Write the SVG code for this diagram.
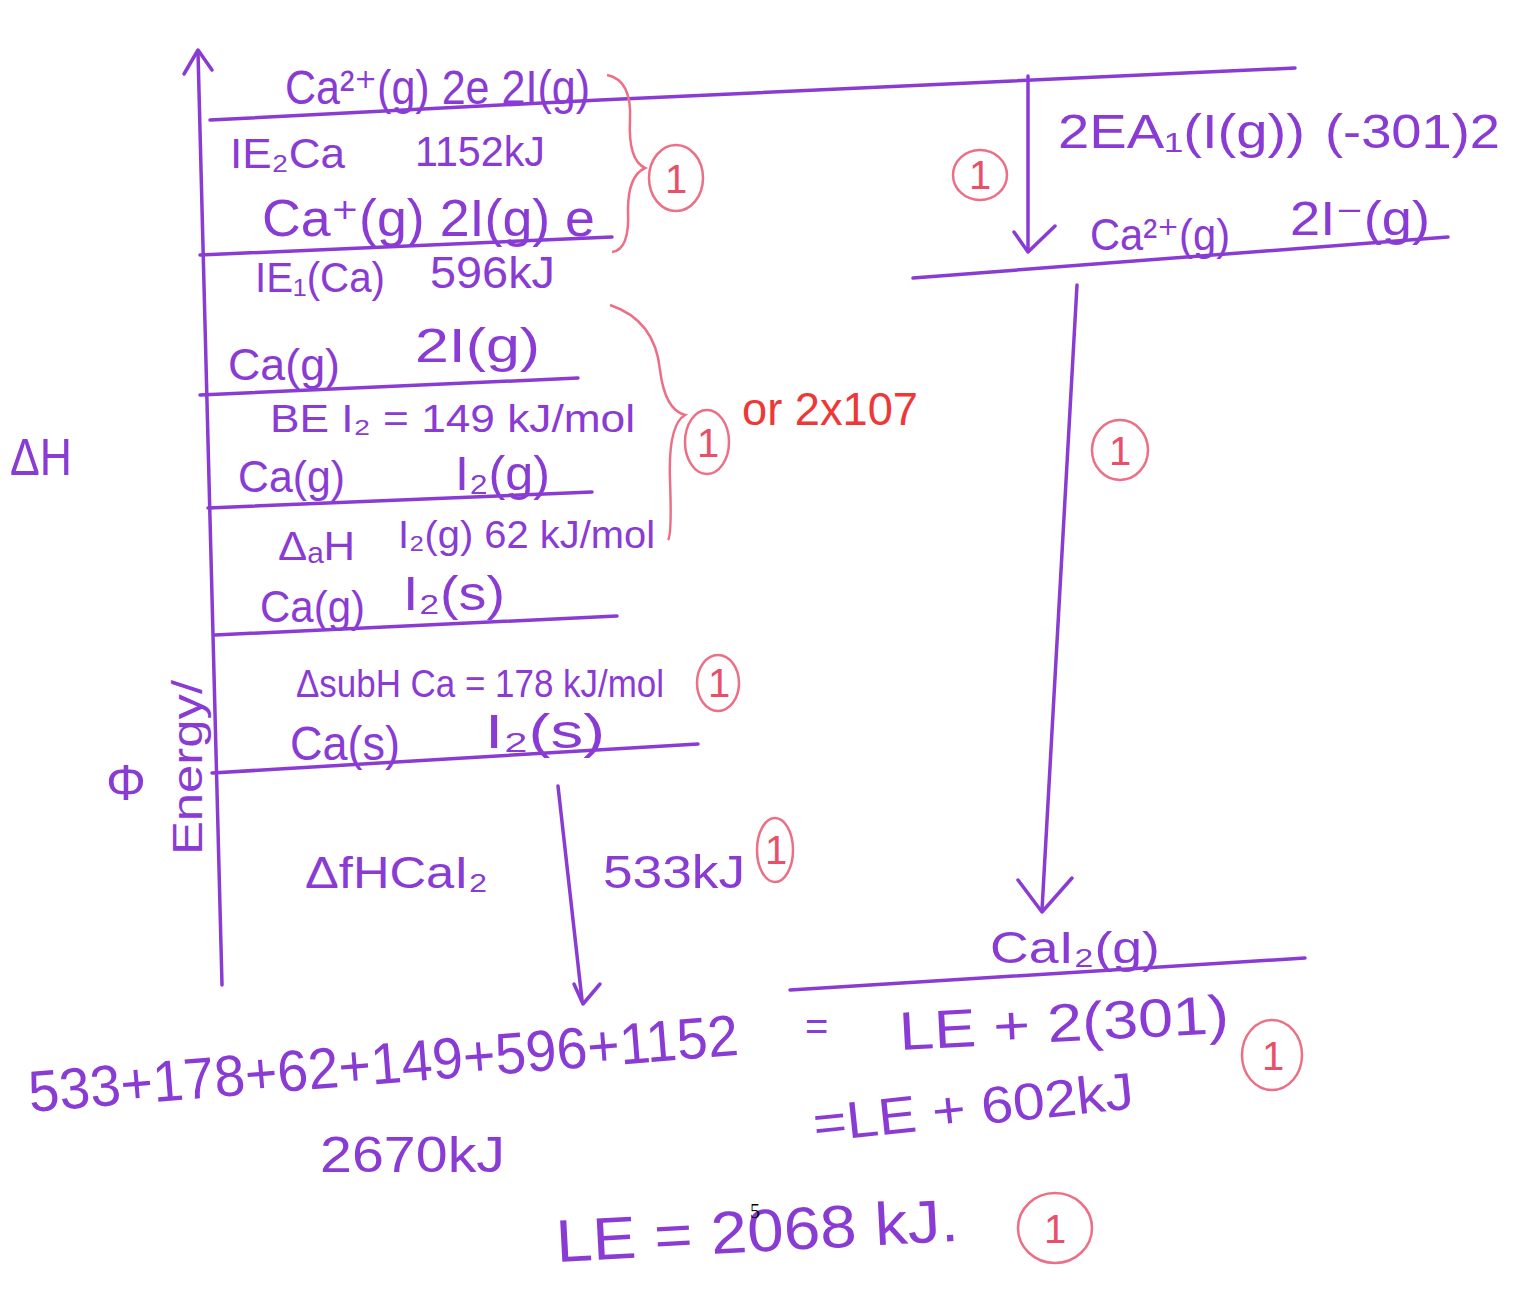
<svg xmlns="http://www.w3.org/2000/svg" width="1518" height="1289" viewBox="0 0 1518 1289">
<style>
.t{font-family:"Liberation Sans","DejaVu Sans",sans-serif;fill:#8a3bd4;}
.ln{stroke:#8a3bd4;stroke-width:3.5;fill:none;stroke-linecap:round;stroke-linejoin:round;}
.pk{stroke:#ec6f86;stroke-width:2.5;fill:none;}
.pkt{font-family:"Liberation Sans",sans-serif;fill:#e8506a;font-size:40px;}
.red{font-family:"Liberation Sans",sans-serif;fill:#ee3838;}
</style>
<rect width="1518" height="1289" fill="#ffffff"/>

<g id="axis">
<path class="ln" d="M198 52 L222 985"/>
<path class="ln" d="M184 74 L198 50 L212 70"/>
<text class="t" x="10" y="475" font-size="52" textLength="62" lengthAdjust="spacingAndGlyphs">ΔH</text>
<text class="t" x="106" y="800" font-size="50">Φ</text>
<text class="t" transform="translate(202,855) rotate(-90)" font-size="42" textLength="175" lengthAdjust="spacingAndGlyphs">Energy/</text>
</g>

<g id="connectors">
<path class="ln" d="M558 786 L582 1000"/>
<path class="ln" d="M574 984 L583 1004 L600 984"/>
<path class="ln" d="M1028 76 L1028 250"/>
<path class="ln" d="M1014 232 L1028 252 L1055 226"/>
<path class="ln" d="M1077 285 L1042 910"/>
<path class="ln" d="M1018 880 L1042 912 L1072 878"/>
</g>

<g id="level-ca2plus-2e-2I">
<path class="ln" d="M210 120 L600 100 L1295 68"/>
<text class="t" x="285" y="104" font-size="48" textLength="305" lengthAdjust="spacingAndGlyphs">Ca²⁺(g) 2e 2I(g)</text>
</g>
<g id="step-ie2">
<text class="t" x="230" y="168" font-size="42" textLength="115" lengthAdjust="spacingAndGlyphs">IE₂Ca</text>
<text class="t" x="415" y="166" font-size="42" textLength="130" lengthAdjust="spacingAndGlyphs">1152kJ</text>
</g>
<g id="level-caplus">
<path class="ln" d="M200 255 L612 237"/>
<text class="t" x="262" y="236" font-size="52" textLength="333" lengthAdjust="spacingAndGlyphs">Ca⁺(g) 2I(g) e</text>
</g>
<g id="step-ie1">
<text class="t" x="255" y="292" font-size="42" textLength="130" lengthAdjust="spacingAndGlyphs">IE₁(Ca)</text>
<text class="t" x="430" y="288" font-size="44" textLength="125" lengthAdjust="spacingAndGlyphs">596kJ</text>
</g>
<g id="level-cag-2Ig">
<path class="ln" d="M200 395 L578 378"/>
<text class="t" x="228" y="380" font-size="45" textLength="112" lengthAdjust="spacingAndGlyphs">Ca(g)</text>
<text class="t" x="415" y="362" font-size="48" textLength="125" lengthAdjust="spacingAndGlyphs">2I(g)</text>
</g>
<g id="step-be">
<text class="t" x="270" y="432" font-size="38" textLength="365" lengthAdjust="spacingAndGlyphs">BE I₂ = 149 kJ/mol</text>
</g>
<g id="level-cag-i2g">
<path class="ln" d="M208 508 L592 492"/>
<text class="t" x="238" y="492" font-size="45" textLength="107" lengthAdjust="spacingAndGlyphs">Ca(g)</text>
<text class="t" x="455" y="490" font-size="48" textLength="95" lengthAdjust="spacingAndGlyphs">I₂(g)</text>
</g>
<g id="step-atom">
<text class="t" x="278" y="560" font-size="40" textLength="77" lengthAdjust="spacingAndGlyphs">ΔₐH</text>
<text class="t" x="398" y="548" font-size="38" textLength="257" lengthAdjust="spacingAndGlyphs">I₂(g) 62 kJ/mol</text>
</g>
<g id="level-cag-i2s">
<path class="ln" d="M215 635 L617 616"/>
<text class="t" x="260" y="622" font-size="45" textLength="105" lengthAdjust="spacingAndGlyphs">Ca(g)</text>
<text class="t" x="403" y="610" font-size="48" textLength="102" lengthAdjust="spacingAndGlyphs">I₂(s)</text>
</g>
<g id="step-sub">
<text class="t" x="296" y="697" font-size="38" textLength="368" lengthAdjust="spacingAndGlyphs">ΔsubH Ca = 178 kJ/mol</text>
</g>
<g id="level-cas-i2s">
<path class="ln" d="M212 773 L698 744"/>
<text class="t" x="290" y="760" font-size="48" textLength="110" lengthAdjust="spacingAndGlyphs">Ca(s)</text>
<text class="t" x="485" y="748" font-size="48" textLength="120" lengthAdjust="spacingAndGlyphs">I₂(s)</text>
</g>
<g id="step-formation">
<text class="t" x="305" y="888" font-size="44" textLength="183" lengthAdjust="spacingAndGlyphs">ΔfHCaI₂</text>
<text class="t" x="603" y="888" font-size="46" textLength="142" lengthAdjust="spacingAndGlyphs">533kJ</text>
</g>

<g id="step-ea">
<text class="t" x="1058" y="148" font-size="48" textLength="247" lengthAdjust="spacingAndGlyphs">2EA₁(I(g))</text>
<text class="t" x="1325" y="148" font-size="48" textLength="175" lengthAdjust="spacingAndGlyphs">(-301)2</text>
</g>
<g id="level-ions">
<path class="ln" d="M913 278 L1448 237"/>
<text class="t" x="1090" y="250" font-size="45" textLength="140" lengthAdjust="spacingAndGlyphs">Ca²⁺(g)</text>
<text class="t" x="1290" y="235" font-size="48" textLength="140" lengthAdjust="spacingAndGlyphs">2I⁻(g)</text>
</g>
<g id="level-cai2">
<path class="ln" d="M790 990 L1305 958"/>
<text class="t" x="990" y="963" font-size="44" textLength="170" lengthAdjust="spacingAndGlyphs">CaI₂(g)</text>
</g>

<g id="calculation">
<text class="t" x="805" y="1040" font-size="40">=</text>
<text class="t" transform="translate(900,1050) rotate(-3)" font-size="54" textLength="330" lengthAdjust="spacingAndGlyphs">LE + 2(301)</text>
<text class="t" transform="translate(30,1112) rotate(-4.6)" font-size="58" textLength="712" lengthAdjust="spacingAndGlyphs">533+178+62+149+596+1152</text>
<text class="t" transform="translate(815,1142) rotate(-6)" font-size="52" textLength="322" lengthAdjust="spacingAndGlyphs">=LE + 602kJ</text>
<text class="t" x="320" y="1172" font-size="50" textLength="185" lengthAdjust="spacingAndGlyphs">2670kJ</text>
<text class="t" transform="translate(557,1262) rotate(-3)" font-size="60" textLength="403" lengthAdjust="spacingAndGlyphs">LE = 2068 kJ.</text>
<text x="750" y="1218" font-family="Liberation Serif,serif" font-size="20" fill="#000">5</text>
</g>

<g id="marks">
<path class="pk" d="M607 75 Q632 80 630 120 Q628 160 645 168 Q628 176 628 210 Q630 250 612 252"/>
<path class="pk" d="M610 305 Q655 320 660 370 Q665 410 685 415 Q668 425 670 480 Q672 535 668 540"/>
<ellipse class="pk" cx="676" cy="178" rx="27" ry="33"/><text class="pkt" x="665" y="193">1</text>
<ellipse class="pk" cx="707" cy="442" rx="22" ry="32"/><text class="pkt" x="697" y="457">1</text>
<text class="red" x="742" y="425" font-size="46" textLength="176" lengthAdjust="spacingAndGlyphs">or 2x107</text>
<ellipse class="pk" cx="718" cy="683" rx="21" ry="28"/><text class="pkt" x="708" y="697">1</text>
<ellipse class="pk" cx="775" cy="850" rx="18" ry="32"/><text class="pkt" x="765" y="864">1</text>
<ellipse class="pk" cx="980" cy="175" rx="27" ry="25"/><text class="pkt" x="969" y="189">1</text>
<ellipse class="pk" cx="1120" cy="450" rx="28" ry="30"/><text class="pkt" x="1109" y="465">1</text>
<ellipse class="pk" cx="1272" cy="1055" rx="30" ry="35"/><text class="pkt" x="1262" y="1070">1</text>
<ellipse class="pk" cx="1055" cy="1228" rx="37" ry="35"/><text class="pkt" x="1044" y="1243">1</text>
</g>
</svg>
